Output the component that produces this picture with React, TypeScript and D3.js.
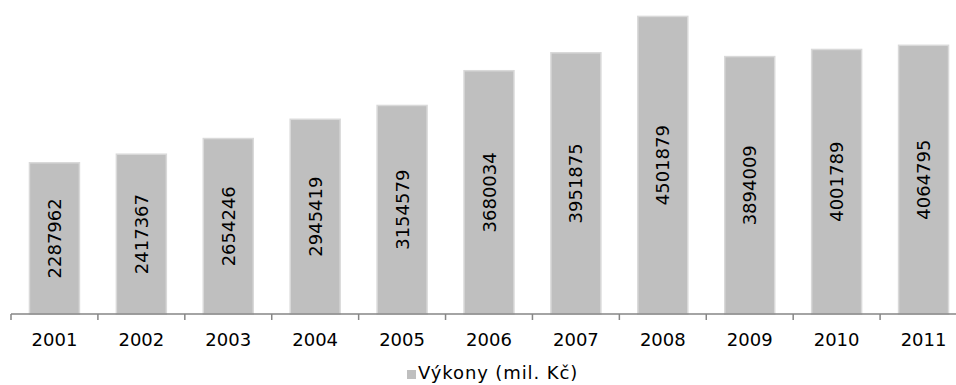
import React from "react";
import * as d3 from "d3";

const years = ["2001", "2002", "2003", "2004", "2005", "2006", "2007", "2008", "2009", "2010", "2011"];
const vykony = [2287962, 2417367, 2654246, 2945419, 3154579, 3680034, 3951875, 4501879, 3894009, 4001789, 4064795];
const seriesName = "Výkony (mil. Kč)";

const W = 956;
const H = 385;
const FONT = "'DejaVu Sans', Verdana, sans-serif";
const FS = 18;

export default function App() {
  const x = d3.scaleBand<string>().domain(years).range([11, 967]).padding(0);
  const y = d3.scaleLinear().domain([0, 4750000]).range([314, 0]);
  const bw = x.bandwidth();
  const barW = bw * 0.575;
  const baseY = y(0);

  return (
    <svg width={W} height={H} style={{ position: "absolute", left: 0, top: 0, background: "#fff" }}>
      {years.map((yr, i) => {
        const v = vykony[i];
        const x0 = (x(yr) as number) + (bw - barW) / 2;
        const top = y(v);
        const cx = (x(yr) as number) + bw / 2;
        const cy = (top + baseY) / 2;
        return (
          <g key={yr}>
            <rect x={x0} y={top} width={barW} height={baseY - top} fill="#bfbfbf" stroke="#d9d9d9" strokeWidth={1.5} />
            <text
              transform={`translate(${cx},${cy}) rotate(-90)`}
              textAnchor="middle"
              dominantBaseline="central"
              fontFamily={FONT}
              fontSize={FS}
              fill="#000"
            >
              {v}
            </text>
          </g>
        );
      })}
      {/* category axis */}
      <line x1={x.range()[0]} x2={x.range()[1]} y1={baseY} y2={baseY} stroke="#868686" strokeWidth={1.5} />
      {years.map((yr) => (
        <line key={"t" + yr} x1={x(yr) as number} x2={x(yr) as number} y1={baseY} y2={baseY + 6} stroke="#868686" strokeWidth={1.5} />
      ))}
      {years.map((yr) => (
        <text
          key={"l" + yr}
          x={(x(yr) as number) + bw / 2}
          y={346}
          textAnchor="middle"
          fontFamily={FONT}
          fontSize={FS}
          fill="#000"
        >
          {yr}
        </text>
      ))}
      {/* legend */}
      <rect x={407} y={370} width={9} height={9} fill="#bfbfbf" />
      <text x={418} y={379} fontFamily={FONT} fontSize={FS} letterSpacing={0.9} fill="#000">
        {seriesName}
      </text>
    </svg>
  );
}
